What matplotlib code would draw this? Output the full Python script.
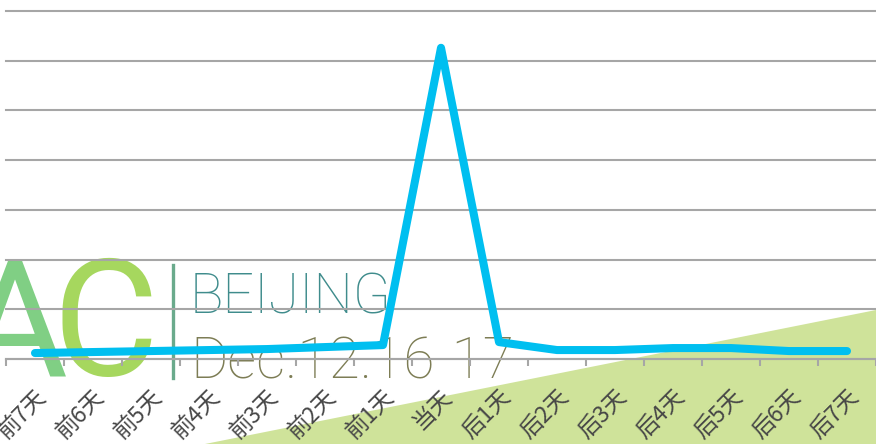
import matplotlib.pyplot as plt
from matplotlib.patches import Polygon

plt.rcParams['font.family'] = ['Noto Sans CJK SC', 'DejaVu Sans']

days = ['前7天', '前6天', '前5天', '前4天', '前3天', '前2天', '前1天', '当天',
        '后1天', '后2天', '后3天', '后4天', '后5天', '后6天', '后7天']
values = [0.12, 0.14, 0.16, 0.18, 0.20, 0.24, 0.28, 6.26,
          0.34, 0.18, 0.18, 0.22, 0.22, 0.16, 0.16]

W, H = 876, 444
fig = plt.figure(figsize=(W / 100, H / 100), dpi=100)
fig.patch.set_facecolor('white')

# green wedge in the lower right corner
fig.patches.append(Polygon([(205 / W, 0), (1, (H - 310) / H), (1, 0)],
                           closed=True, transform=fig.transFigure,
                           facecolor='#cfe39a', edgecolor='none', zorder=0))

# event logo behind the plot
logo = dict(family='Roboto', zorder=0.5, va='baseline')
fig.text(-38 / W, (H - 375) / H, 'A', fontsize=117, color='#80cf84',
         fontweight='normal', **logo)
fig.text(52 / W, (H - 375) / H, 'C', fontsize=117, color='#a6d75e',
         fontweight='normal', **logo)
fig.add_artist(plt.Line2D([173 / W, 173 / W], [(H - 378) / H, (H - 265) / H],
                          transform=fig.transFigure, color='#6aaa8c', lw=2.4,
                          zorder=0.5))
fig.text(190 / W, (H - 313) / H, 'BEIJING', fontsize=40, color='#3f8c8c',
         fontweight='light', **logo)
fig.text(190 / W, (H - 378) / H, 'Dec.12.16-17', fontsize=41, color='#7d7d55',
         fontweight='light', **logo)

ax = fig.add_axes([6 / W, (H - 359) / H, (W - 6) / W, (359 - 11) / H])
ax.patch.set_alpha(0)
ax.set_zorder(2)

x = list(range(len(days)))
ax.plot(x, values, color='#00bff0', lw=5.8, solid_capstyle='round',
        solid_joinstyle='round', zorder=3)

ax.set_xlim(-0.5, -0.5 + (W - 6) / 58.3)
ax.set_ylim(0, 7)
ax.set_yticks(range(0, 8))
ax.yaxis.grid(True, color='#a6a6a6', lw=1.5)
for gl in ax.get_ygridlines():
    gl.set_clip_on(False)
ax.set_axisbelow(True)
ax.tick_params(axis='y', length=0, labelleft=False)

ax.set_xticks(x)
ax.set_xticklabels(days, rotation=45, ha='right', rotation_mode='anchor',
                   fontsize=16.5, color='#474747')
ax.set_xticks([i - 0.5 for i in range(len(days) + 1)], minor=True)
ax.tick_params(axis='x', which='major', length=0, pad=19)
ax.tick_params(axis='x', which='minor', length=5, width=1.5, color='#a6a6a6')

for side in ['top', 'right', 'left']:
    ax.spines[side].set_visible(False)
ax.spines['bottom'].set_color('#a6a6a6')
ax.spines['bottom'].set_linewidth(1.5)

fig.savefig('out.png', dpi=100)
